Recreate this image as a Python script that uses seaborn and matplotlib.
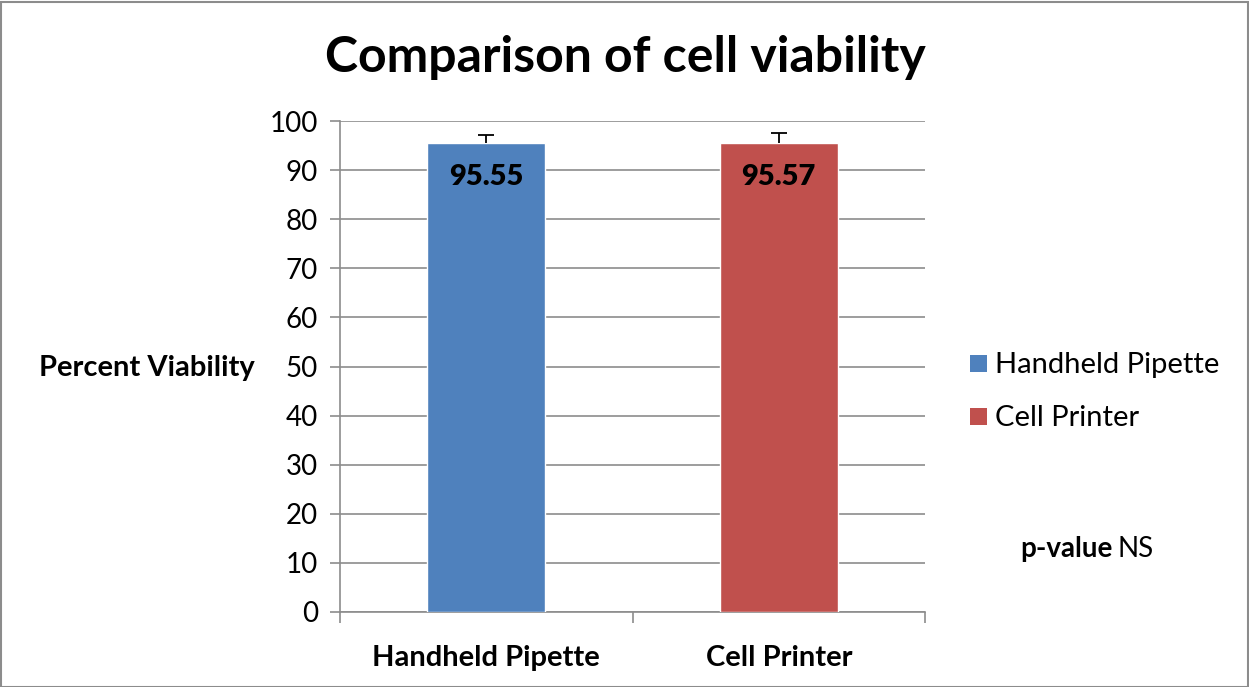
import matplotlib
matplotlib.use("Agg")
import matplotlib.pyplot as plt
import seaborn as sns
import pandas as pd
import numpy as np
from matplotlib.patches import Rectangle

categories = ["Handheld Pipette", "Cell Printer"]
values = [95.55, 95.57]
errors = [1.6, 2.0]
labels = ["95.55", "95.57"]
colors = ["#4F81BD", "#C0504D"]
yticks = list(range(0, 101, 10))

sns.set_style("white")
plt.rcParams['font.family'] = ['Lato', 'DejaVu Sans']
plt.rcParams['text.color'] = 'black'
plt.rcParams['xtick.labelcolor'] = 'black'
plt.rcParams['ytick.labelcolor'] = 'black'

FS = 21

fig = plt.figure(figsize=(12.49, 6.87), dpi=100)
ax = fig.add_axes([340/1249, 1-612/687, (925-340)/1249, (612-121)/687])

df = pd.DataFrame({"cat": categories, "val": values})
sns.barplot(data=df, x="cat", y="val", hue="cat", palette=colors, width=0.405,
            errorbar=None, ax=ax, legend=False, saturation=1, zorder=3)
xs = np.arange(len(categories))
tops = np.array(values) + np.array(errors)
ax.vlines(xs, values, tops, color='black', linewidth=1.3, zorder=4)
ax.scatter(xs, tops, marker='_', s=120, color='black', linewidths=1.3, zorder=4)

for i, (v, lab) in enumerate(zip(values, labels)):
    ax.text(i, v - 4.3, lab, ha='center', va='top', fontsize=21, fontweight='heavy', color='black', zorder=5)

ax.set_ylim(0, 100)
ax.set_xlim(-0.5, 1.5)
ax.set_yticks(yticks)
ax.set_yticklabels([str(t) for t in yticks], fontsize=20)
ax.yaxis.grid(True, color='#8C8C8C', linewidth=1.2)
ax.set_axisbelow(True)
for s in ['top', 'right']:
    ax.spines[s].set_visible(False)
for s in ['left', 'bottom']:
    ax.spines[s].set_color('#8C8C8C')
    ax.spines[s].set_linewidth(1.2)
ax.tick_params(axis='y', length=7, color='#8C8C8C', width=1.2, left=True, pad=9)
ax.set_xticks([0, 1])
ax.set_xticklabels(categories, fontsize=FS, fontweight='bold')
ax.set_xticks([-0.5, 0.5, 1.5], minor=True)
ax.tick_params(axis='x', which='major', length=0, pad=24)
ax.tick_params(axis='x', which='minor', length=8, color='#8C8C8C', width=1.2, bottom=True)
ax.set_xlabel("")
ax.set_ylabel("")

fig.text(147/1249, 1-368/687, "Percent Viability", ha='center', va='center', fontsize=FS, fontweight='bold')
fig.text(625/1249, 1-57/687, "Comparison of cell viability", ha='center', va='center', fontsize=36, fontweight='bold')

# legend
for j, (c, name) in enumerate(zip(colors, categories)):
    y = 1 - (363 + j*53)/687
    fig.patches.append(Rectangle((970/1249, y - 9/687), 17/1249, 17/687, transform=fig.transFigure,
                                 facecolor=c, edgecolor='none'))
    fig.text(995/1249, y - 2/687, name, ha='left', va='center', fontsize=FS)

fig.text(1020/1249, 1-549/687, "p-value", ha='left', va='center', fontsize=20, fontweight='bold')
fig.text(1117/1249, 1-549/687, "NS", ha='left', va='center', fontsize=20)

fig.patches.append(Rectangle((0.5/1249, 0.5/687), 1247/1249, 685/687, transform=fig.transFigure,
                             facecolor='none', edgecolor='#8C8C8C', linewidth=1.5))

fig.savefig("out.png", dpi=100)
